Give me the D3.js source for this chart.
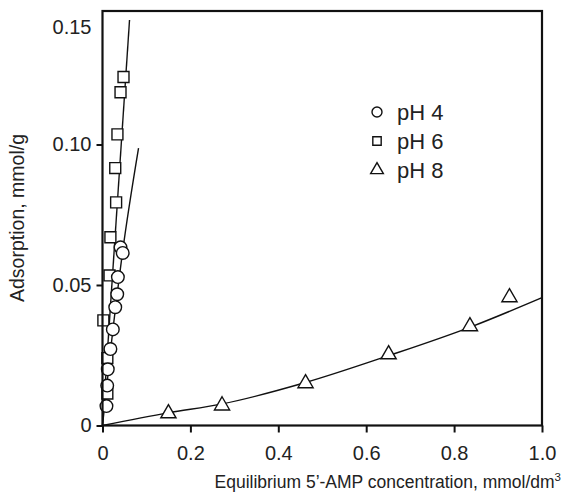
<!DOCTYPE html>
<html>
<head>
<meta charset="utf-8">
<script src="https://cdn.jsdelivr.net/npm/d3@7"></script>
<style>
  body { margin: 0; background: #fff; }
  text { font-family: "Liberation Sans", Arial, sans-serif; fill: #222; }
</style>
</head>
<body>
<svg id="chart" width="568" height="494"></svg>
<script>
// pH 4 (circles)
const ph4X = [0.009, 0.0107, 0.012, 0.018, 0.0235, 0.029, 0.0335, 0.035, 0.041, 0.046];
const ph4Y = [0.0069, 0.0142, 0.020, 0.0272, 0.0342, 0.0421, 0.0467, 0.0528, 0.0634, 0.0614];
// pH 6 (squares)
const ph6X = [0.011, 0.011, 0.002, 0.016, 0.018, 0.031, 0.029, 0.034, 0.041, 0.0478];
const ph6Y = [0.0114, 0.024, 0.0374, 0.0534, 0.067, 0.0794, 0.0916, 0.1036, 0.1186, 0.124];
// pH 8 (triangles)
const ph8X = [0.15, 0.272, 0.462, 0.651, 0.836, 0.926];
const ph8Y = [0.0043, 0.0071, 0.015, 0.0253, 0.0353, 0.0456];

// fitted lines
const fit4X = [0, 0.02, 0.045, 0.082];
const fit4Y = [0, 0.029, 0.061, 0.0987];
const fit6X = [0, 0.0615];
const fit6Y = [0, 0.1443];
const fit8X = [0, 0.15, 0.27, 0.46, 0.65, 0.84, 1.0];
const fit8Y = [0, 0.0045, 0.0076, 0.0152, 0.0248, 0.0352, 0.0455];

const xTicks = [0, 0.2, 0.4, 0.6, 0.8, 1.0];
const yTicks = [0, 0.05, 0.10];
const yTopLabel = 0.1418; // where "0.15" is printed
const legendNames = ["pH 4", "pH 6", "pH 8"];

const svg = d3.select("#chart");
const mLeft = 102.5, mRight = 542, mTop = 11, mBottom = 425.5;

const x = d3.scaleLinear().domain([0, 1]).range([mLeft, mRight]);
const y = d3.scaleLinear().domain([0, 0.1475]).range([mBottom, mTop]);

const zip = (a, b) => a.map((v, i) => [v, b[i]]);

// fitted curves
const line = d3.line().x(d => x(d[0])).y(d => y(d[1]));
const lineCurve = d3.line().x(d => x(d[0])).y(d => y(d[1])).curve(d3.curveMonotoneX);
svg.append("path").attr("d", line(zip(fit6X, fit6Y)))
  .attr("fill", "none").attr("stroke", "#111").attr("stroke-width", 1.4);
svg.append("path").attr("d", lineCurve(zip(fit4X, fit4Y)))
  .attr("fill", "none").attr("stroke", "#111").attr("stroke-width", 1.4);
svg.append("path").attr("d", lineCurve(zip(fit8X, fit8Y)))
  .attr("fill", "none").attr("stroke", "#111").attr("stroke-width", 1.4);

// markers
const sq = d3.symbol().type(d3.symbolSquare).size(120);
const tri = d3.symbol().type(d3.symbolTriangle).size(100);

svg.append("g").selectAll("path").data(zip(ph6X, ph6Y)).join("path")
  .attr("d", sq)
  .attr("transform", d => `translate(${x(d[0])},${y(d[1])})`)
  .attr("fill", "#fff").attr("stroke", "#111").attr("stroke-width", 1.4);

svg.append("g").selectAll("circle").data(zip(ph4X, ph4Y)).join("circle")
  .attr("cx", d => x(d[0])).attr("cy", d => y(d[1])).attr("r", 6.3)
  .attr("fill", "#fff").attr("stroke", "#111").attr("stroke-width", 1.4);

svg.append("g").selectAll("path").data(zip(ph8X, ph8Y)).join("path")
  .attr("d", tri)
  .attr("transform", d => `translate(${x(d[0])},${y(d[1])})`)
  .attr("fill", "#fff").attr("stroke", "#111").attr("stroke-width", 1.4);

// frame
svg.append("rect").attr("x", mLeft).attr("y", mTop)
  .attr("width", mRight - mLeft).attr("height", mBottom - mTop)
  .attr("fill", "none").attr("stroke", "#111").attr("stroke-width", 2.2);

// axes
const xAxis = svg.append("g").attr("transform", `translate(0,${mBottom})`)
  .call(d3.axisBottom(x).tickValues(xTicks).tickSize(7).tickPadding(13)
    .tickFormat(d => d === 0 ? "0" : d3.format(".1f")(d)));
const yAxis = svg.append("g").attr("transform", `translate(${mLeft},0)`)
  .call(d3.axisLeft(y).tickValues(yTicks.concat([yTopLabel])).tickSize(6).tickPadding(5)
    .tickFormat(d => d === 0 ? "0" : d === yTopLabel ? "0.15" : d3.format(".2f")(d)));
[xAxis, yAxis].forEach(g => {
  g.select(".domain").remove();
  g.selectAll("line").attr("stroke", "#111").attr("stroke-width", 2);
  g.selectAll("text").attr("font-size", 20).attr("fill", "#222")
    .style("font-family", "'Liberation Sans', Arial, sans-serif");
});
yAxis.selectAll(".tick").filter(d => d === yTopLabel).select("line").remove();

// axis titles
svg.append("text").attr("transform", "translate(24,218) rotate(-90)")
  .attr("text-anchor", "middle").attr("font-size", 19.5)
  .text("Adsorption, mmol/g");
const xt = svg.append("text").attr("x", 561).attr("y", 488)
  .attr("text-anchor", "end").attr("font-size", 17.5);
xt.append("tspan").text("Equilibrium 5\u2019-AMP concentration, mmol/dm");
xt.append("tspan").attr("dy", -7).attr("font-size", 11.5).text("3");

// legend
const legY = [112, 141, 170];
const leg = svg.append("g").selectAll("g").data(legendNames).join("g")
  .attr("transform", (d, i) => `translate(377,${legY[i]})`);
leg.each(function(d, i) {
  const g = d3.select(this);
  if (i === 0) g.append("circle").attr("r", 5).attr("fill", "#fff").attr("stroke", "#111").attr("stroke-width", 1.4);
  if (i === 1) g.append("path").attr("d", d3.symbol().type(d3.symbolSquare).size(70)).attr("fill", "#fff").attr("stroke", "#111").attr("stroke-width", 1.4);
  if (i === 2) g.append("path").attr("d", d3.symbol().type(d3.symbolTriangle).size(70)).attr("fill", "#fff").attr("stroke", "#111").attr("stroke-width", 1.4);
  g.append("text").attr("x", 20).attr("dy", "0.36em").attr("font-size", 22).text(d);
});
</script>
</body>
</html>
